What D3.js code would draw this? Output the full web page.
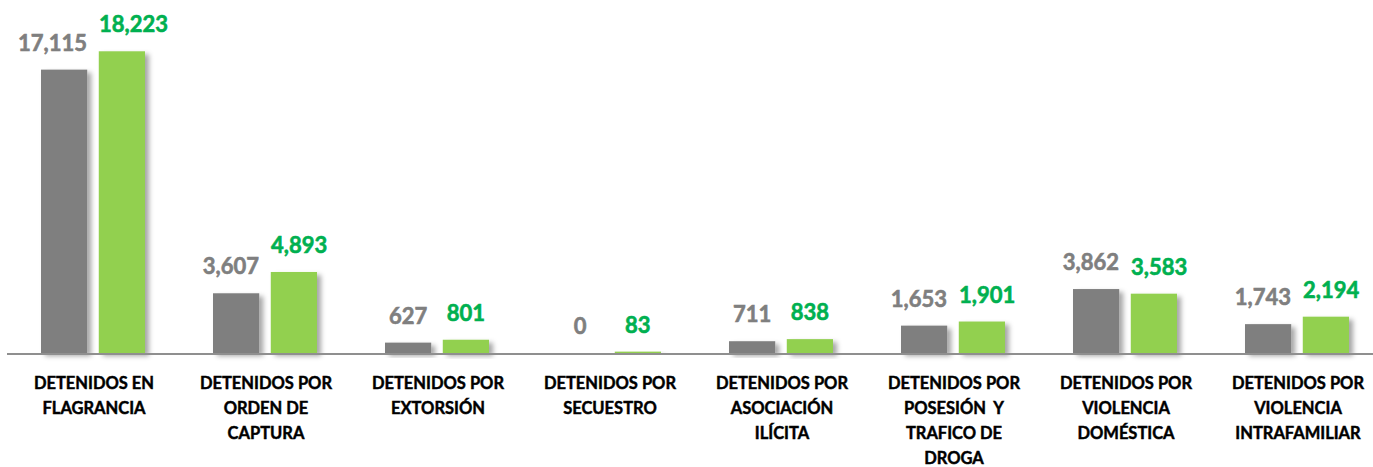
<!DOCTYPE html>
<html>
<head>
<meta charset="utf-8">
<script src="https://cdn.jsdelivr.net/npm/d3@7"></script>
<style>
  html, body { margin: 0; padding: 0; background: #fff; }
  svg { display: block; font-family: Lato, "Open Sans", sans-serif; }
</style>
</head>
<body>
<svg id="chart" width="1373" height="467"></svg>
<script>
// categories (line breaks as in the original labels)
const categories = [
    'DETENIDOS EN\nFLAGRANCIA',
    'DETENIDOS POR\nORDEN DE\nCAPTURA',
    'DETENIDOS POR\nEXTORSIÓN',
    'DETENIDOS POR\nSECUESTRO',
    'DETENIDOS POR\nASOCIACIÓN\nILÍCITA',
    'DETENIDOS POR\nPOSESIÓN  Y\nTRAFICO DE\nDROGA',
    'DETENIDOS POR\nVIOLENCIA\nDOMÉSTICA',
    'DETENIDOS POR\nVIOLENCIA\nINTRAFAMILIAR'
];
const previousYear = [17115, 3607, 627, 0, 711, 1653, 3862, 1743];
const currentYear = [18223, 4893, 801, 83, 838, 1901, 3583, 2194];
const seriesKeys = ['previous', 'current'];

document.addEventListener('DOMContentLoaded', () => {
    const svg = d3.select('#chart');
    const width = 1373;
    const margin = { left: 7, right: -10, baseline: 353 };

    const barColor = { previous: '#7f7f7f', current: '#92d050' };
    const labelColor = { previous: '#7f7f7f', current: '#00b050' };

    const data = categories.map((c, i) => ({
        category: c,
        previous: previousYear[i],
        current: currentYear[i]
    }));

    const x = d3.scaleBand()
        .domain(categories)
        .range([margin.left, width - margin.right])
        .paddingInner(0)
        .paddingOuter(0);

    const xSub = d3.scaleBand()
        .domain(seriesKeys)
        .range([34, x.bandwidth() - 34])
        .paddingInner(0.2);

    const y = d3.scaleLinear()
        .domain([0, 21320])
        .range([margin.baseline, 0]);

    // soft drop shadow like the office chart
    const defs = svg.append('defs');
    const filter = defs.append('filter')
        .attr('id', 'shadow')
        .attr('x', '-20%').attr('y', '-20%')
        .attr('width', '160%').attr('height', '160%');
    filter.append('feDropShadow')
        .attr('dx', 4).attr('dy', 3)
        .attr('stdDeviation', 2.5)
        .attr('flood-color', '#000')
        .attr('flood-opacity', 0.35);

    const groups = svg.append('g')
        .selectAll('g')
        .data(data)
        .join('g')
        .attr('transform', d => `translate(${x(d.category)},0)`);

    groups.selectAll('rect')
        .data(d => seriesKeys.map(k => ({ key: k, value: d[k] })))
        .join('rect')
        .attr('x', d => xSub(d.key))
        .attr('y', d => y(d.value))
        .attr('width', xSub.bandwidth())
        .attr('height', d => y(0) - y(d.value))
        .attr('fill', d => barColor[d.key])
        .attr('filter', d => d.value > 0 ? 'url(#shadow)' : null);

    // axis line
    svg.append('g')
        .attr('transform', `translate(0,${margin.baseline})`)
        .call(d3.axisBottom(x).tickSize(0).tickFormat(''))
        .call(g => g.select('.domain')
            .attr('stroke', '#8f8f8f')
            .attr('stroke-width', 2)
            .attr('d', `M${margin.left},1H${width}`));

    // value labels
    const fmt = d3.format(',');
    groups.each(function (d) {
        const g = d3.select(this);
        const labels = seriesKeys.map(k => {
            const t = g.append('text')
                .attr('text-anchor', 'middle')
                .attr('font-size', 22)
                .attr('font-weight', 700)
                .attr('fill', labelColor[k])
                .attr('stroke', labelColor[k])
                .attr('stroke-width', 0.6)
                .attr('y', y(d[k]) - 19)
                .text(fmt(d[k]));
            return { t, cx: xSub(k) + xSub.bandwidth() / 2, w: t.node().getComputedTextLength() };
        });
        // push overlapping labels apart
        const gap = 12;
        const need = labels[0].w / 2 + labels[1].w / 2 + gap;
        const have = labels[1].cx - labels[0].cx;
        const shift = need > have ? (need - have) / 2 : 0;
        labels[0].t.attr('x', labels[0].cx - shift);
        labels[1].t.attr('x', labels[1].cx + shift);
    });

    // category labels
    groups.append('text')
        .attr('text-anchor', 'middle')
        .attr('font-size', 16.5)
        .attr('font-weight', 700)
        .attr('fill', '#000')
        .attr('stroke', '#000')
        .attr('stroke-width', 0.45)
        .attr('y', 389)
        .style('white-space', 'pre')
        .selectAll('tspan')
        .data(d => d.category.split('\n'))
        .join('tspan')
        .attr('x', x.bandwidth() / 2 + 1)
        .attr('dy', (d, i) => i === 0 ? 0 : 25)
        .text(d => d);
});
</script>
</body>
</html>
